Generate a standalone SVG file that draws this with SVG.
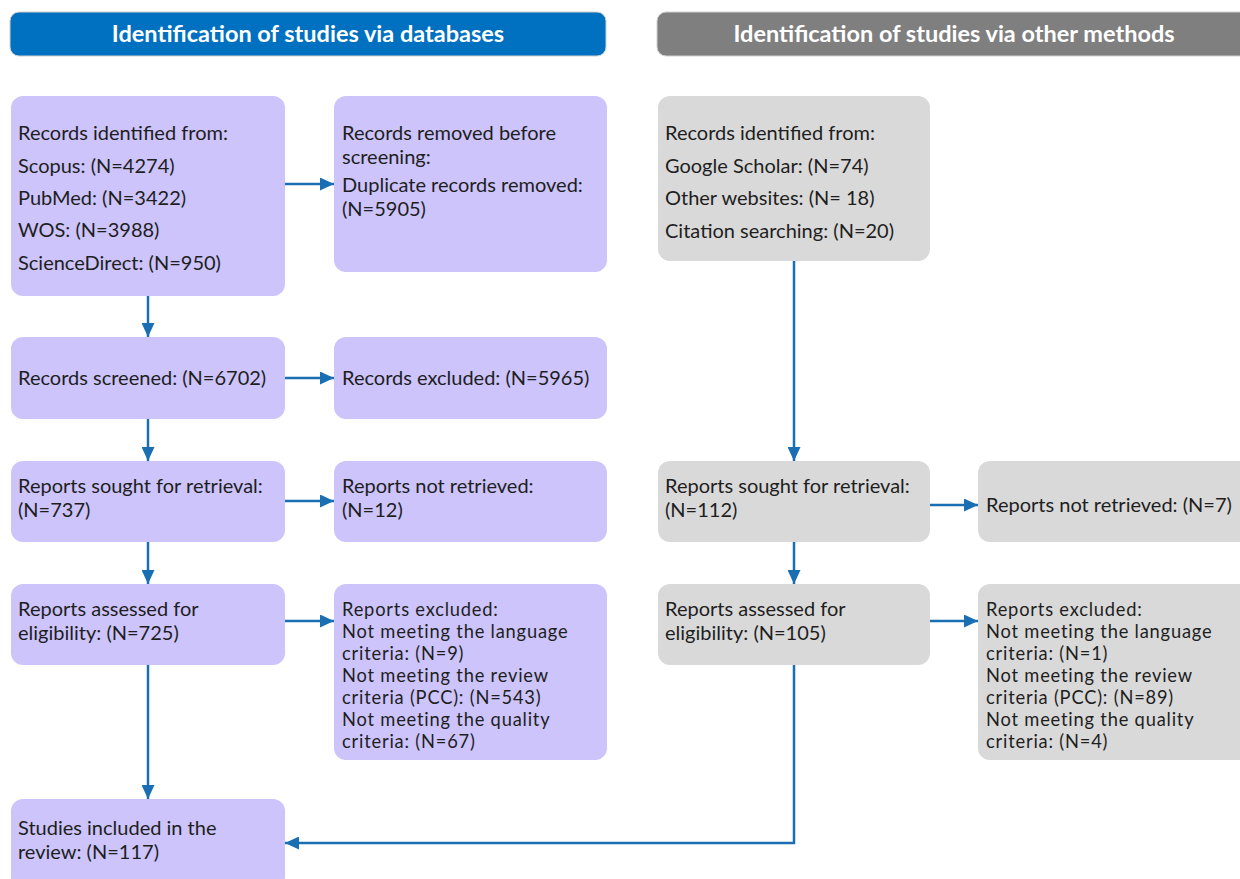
<svg xmlns="http://www.w3.org/2000/svg" width="1240" height="879" viewBox="0 0 1240 879">
<defs>
<marker id="ah" markerUnits="userSpaceOnUse" markerWidth="15" markerHeight="13" refX="14" refY="6.5" orient="auto">
<path d="M0,0 L14,6.5 L0,13 Z" fill="#1a6fb3"/>
</marker>
<style>
.hd{stroke:#d0d0d0;stroke-width:1}
.hb{fill:#0070c0}
.hg{fill:#7f7f7f}
.ht{font-family:Lato,"Open Sans","Liberation Sans",sans-serif;font-weight:bold;font-size:23.5px;fill:#fff;text-anchor:middle}
.p{fill:#ccc4fb}
.g{fill:#d9d9d9}
.t{font-family:Lato,"Open Sans","Liberation Sans",sans-serif;font-size:20px;fill:#1e1e1e}
.s{font-size:18.3px;letter-spacing:0.8px}
.c{stroke:#1a6fb3;stroke-width:2.5;fill:none;marker-end:url(#ah)}
</style>
</defs>
<rect width="1240" height="879" fill="#fff"/>
<g id="header-db"><rect class="hb hd" x="10" y="12" width="596" height="44" rx="9"/><text class="ht" x="308" y="42">Identification of studies via databases</text></g>
<g id="header-other"><rect class="hg hd" x="657" y="12" width="600" height="44" rx="9"/><text class="ht" x="954" y="42">Identification of studies via other methods</text></g>

<g id="db-identified"><rect class="p" x="11" y="96" width="274" height="200" rx="12"/>
<text class="t" x="18" y="140">Records identified from:</text>
<text class="t" x="18" y="173">Scopus: (N=4274)</text>
<text class="t" x="18" y="205">PubMed: (N=3422)</text>
<text class="t" x="18" y="237">WOS: (N=3988)</text>
<text class="t" x="18" y="270">ScienceDirect: (N=950)</text></g>
<g id="db-removed"><rect class="p" x="334" y="96" width="273" height="176" rx="12"/>
<text class="t" x="342" y="140">Records removed before<tspan x="342" dy="24">screening:</tspan></text>
<text class="t" x="342" y="192">Duplicate records removed:<tspan x="342" dy="24">(N=5905)</tspan></text></g>
<g id="db-screened"><rect class="p" x="11" y="337" width="274" height="82" rx="12"/>
<text class="t" x="18" y="385">Records screened: (N=6702)</text></g>
<g id="db-excluded"><rect class="p" x="334" y="337" width="273" height="82" rx="12"/>
<text class="t" x="342" y="385">Records excluded: (N=5965)</text></g>
<g id="db-sought"><rect class="p" x="11" y="461" width="274" height="81" rx="12"/>
<text class="t" x="18" y="493">Reports sought for retrieval:<tspan x="18" dy="24">(N=737)</tspan></text></g>
<g id="db-notretrieved"><rect class="p" x="334" y="461" width="273" height="81" rx="12"/>
<text class="t" x="342" y="493">Reports not retrieved:<tspan x="342" dy="24">(N=12)</tspan></text></g>
<g id="db-assessed"><rect class="p" x="11" y="584" width="274" height="81" rx="12"/>
<text class="t" x="18" y="616">Reports assessed for<tspan x="18" dy="24">eligibility: (N=725)</tspan></text></g>
<g id="db-reportsexcluded"><rect class="p" x="334" y="584" width="273" height="176" rx="12"/>
<text class="t s" x="342" y="616">Reports excluded:<tspan x="342" dy="22">Not meeting the language</tspan><tspan x="342" dy="22">criteria: (N=9)</tspan><tspan x="342" dy="22">Not meeting the review</tspan><tspan x="342" dy="22">criteria (PCC): (N=543)</tspan><tspan x="342" dy="22">Not meeting the quality</tspan><tspan x="342" dy="22">criteria: (N=67)</tspan></text></g>
<g id="included"><rect class="p" x="11" y="799" width="274" height="90" rx="12"/>
<text class="t" x="18" y="835">Studies included in the<tspan x="18" dy="24">review: (N=117)</tspan></text></g>

<g id="ot-identified"><rect class="g" x="658" y="96" width="272" height="165" rx="12"/>
<text class="t" x="665" y="140">Records identified from:</text>
<text class="t" x="665" y="173">Google Scholar: (N=74)</text>
<text class="t" x="665" y="205">Other websites: (N= 18)</text>
<text class="t" x="665" y="238">Citation searching: (N=20)</text></g>
<g id="ot-sought"><rect class="g" x="658" y="461" width="272" height="81" rx="12"/>
<text class="t" x="665" y="493">Reports sought for retrieval:<tspan x="665" dy="24">(N=112)</tspan></text></g>
<g id="ot-notretrieved"><rect class="g" x="978" y="461" width="280" height="81" rx="12"/>
<text class="t" x="986" y="512">Reports not retrieved: (N=7)</text></g>
<g id="ot-assessed"><rect class="g" x="658" y="584" width="272" height="81" rx="12"/>
<text class="t" x="665" y="616">Reports assessed for<tspan x="665" dy="24">eligibility: (N=105)</tspan></text></g>
<g id="ot-reportsexcluded"><rect class="g" x="978" y="584" width="280" height="176" rx="12"/>
<text class="t s" x="986" y="616">Reports excluded:<tspan x="986" dy="22">Not meeting the language</tspan><tspan x="986" dy="22">criteria: (N=1)</tspan><tspan x="986" dy="22">Not meeting the review</tspan><tspan x="986" dy="22">criteria (PCC): (N=89)</tspan><tspan x="986" dy="22">Not meeting the quality</tspan><tspan x="986" dy="22">criteria: (N=4)</tspan></text></g>

<g id="connectors">
<path class="c" d="M148,296 V337"/>
<path class="c" d="M148,419 V461"/>
<path class="c" d="M148,542 V584"/>
<path class="c" d="M148,665 V799"/>
<path class="c" d="M285,184 H334"/>
<path class="c" d="M285,378 H334"/>
<path class="c" d="M285,501 H334"/>
<path class="c" d="M285,621 H334"/>
<path class="c" d="M794,261 V461"/>
<path class="c" d="M794,542 V584"/>
<path class="c" d="M930,505 H978"/>
<path class="c" d="M930,621 H978"/>
<path class="c" d="M794,665 V843 H285"/>
</g>
</svg>
